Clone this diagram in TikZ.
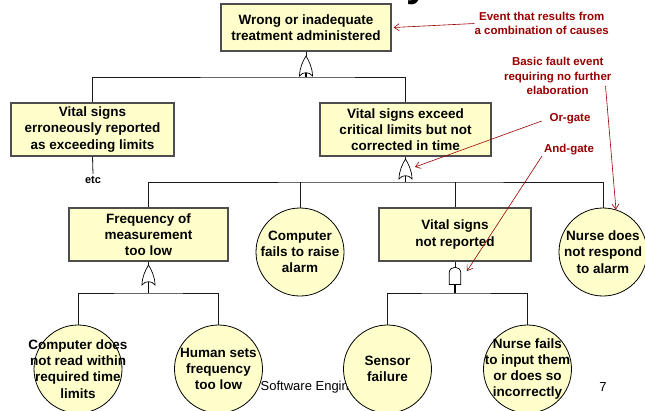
\documentclass[tikz,border=0pt]{standalone}
\usepackage{fontspec}
\setmainfont{Liberation Sans}
\usetikzlibrary{arrows.meta,calc}
\definecolor{boxfill}{HTML}{FFFFCC}
\definecolor{annred}{HTML}{990000}
\definecolor{boxline}{HTML}{4D4D4D}
\definecolor{connline}{HTML}{1A1A1A}
\tikzset{
  evbox/.style={draw=boxline, line width=1.3pt, fill=boxfill, minimum height=53pt, inner sep=0pt, align=center, font=\bfseries\fontsize{13.5}{16.3}\selectfont},
  basic/.style={circle, draw=black, line width=0.8pt, fill=boxfill, minimum size=88pt, inner sep=0pt},
  ctext/.style={align=center, font=\bfseries\fontsize{13.5}{16.3}\selectfont, inner sep=0pt},
  conn/.style={draw=connline, line width=0.8pt},
  gatestem/.style={draw=black, line width=1.6pt},
  annot/.style={text=annred, align=center, font=\bfseries\fontsize{11.5}{14.5}\selectfont, inner sep=0pt},
  annarrow/.style={draw=annred, line width=0.6pt, -{Straight Barb[length=5pt,width=7pt]}},
  gateshape/.style={draw=black, line width=0.7pt, fill=white},
  orgate/.pic={\path[gateshape] (-6.5,0) .. controls (-6.5,-8) and (-3,-15) .. (0,-20) .. controls (3,-15) and (6.5,-8) .. (6.5,0) .. controls (3,-4.5) and (-3,-4.5) .. cycle;},
  andgate/.pic={\path[gateshape] (-5.8,0) -- (-5.8,-11.5) .. controls (-5.8,-19.2) and (5.8,-19.2) .. (5.8,-11.5) -- (5.8,0) -- cycle;}
}
\begin{document}
\begin{tikzpicture}[x=1pt,y=-1pt]
\useasboundingbox (0,0) rectangle (645,410);
\fill[white] (0,0) rectangle (645,410);

% clipped title fragment
\begin{scope}
\clip (0,0) rectangle (645,410);
\node[anchor=base west, inner sep=0pt, font=\bfseries\fontsize{40}{44}\selectfont] (title) at (406,-3.5) {y};
\end{scope}

% footer (partly hidden by circles)
\node[anchor=west, inner sep=0pt, font=\fontsize{13}{15}\selectfont] (footer) at (260.5,387) {Software Engineering};
\node[inner sep=0pt, font=\fontsize{13}{15}\selectfont] (pg) at (603,387) {7};

% events
\node[evbox, minimum width=170pt, minimum height=47pt] (top) at (306,27.5) {Wrong or inadequate\\treatment administered};
\node[evbox, minimum width=163pt] (vl) at (92.5,129.5) {Vital signs\\erroneously reported\\as exceeding limits};
\node[evbox, minimum width=171pt] (vr) at (405.5,129.5) {Vital signs exceed\\critical limits but not\\corrected in time};
\node[evbox, minimum width=159pt] (freq) at (148.5,234.5) {Frequency of\\measurement\\too low};
\node[evbox, minimum width=152pt] (vsnr) at (455,234.5) {Vital signs\\not reported};

% basic events
\node[basic, label={[ctext]center:{Computer\\fails to raise\\alarm}}] (comp) at (300,252) {};
\node[basic, label={[ctext]center:{Nurse does\\not respond\\to alarm}}] (nurse) at (603,252) {};
\node[basic, label={[ctext]center:{Computer does\\not read within\\required time\\limits}}] (c1) at (78,369) {};
\node[basic, label={[ctext]center:{Human sets\\frequency\\too low}}] (c2) at (218.5,369) {};
\node[basic, label={[ctext]center:{Sensor\\failure}}] (c3) at (387.5,369) {};
\node[basic, label={[ctext]center:{Nurse fails\\to input them\\or does so\\incorrectly}}] (c4) at (527.5,369) {};

\node[font=\bfseries\fontsize{11}{13}\selectfont, inner sep=2pt] (etc) at (93,180) {etc};

% gate coordinates
\coordinate (g1top) at (306,56);   \coordinate (g1) at (306,76);    \coordinate (g1mid) at (306,72.6); \coordinate (bus1) at (306,77);
\coordinate (g2top) at (405.5,160); \coordinate (g2) at (405.5,179); \coordinate (g2mid) at (405.5,175.6); \coordinate (bus2) at (405.5,182);
\coordinate (g3top) at (148.5,266); \coordinate (g3) at (148.5,285); \coordinate (g3mid) at (148.5,281.6); \coordinate (bus3) at (148.5,293);
\coordinate (g4top) at (455,267);   \coordinate (g4) at (455,284.5); \coordinate (bus4) at (455,293);

% connectors
\draw[conn] (top.south) -- (g1top);
\draw[gatestem] (g1mid) -- (bus1);
\draw[conn] (vl.north) |- (bus1) -| (vr.north);
\draw[conn] (vl.south) -- (etc.north);

\draw[conn] (vr.south) -- (g2top);
\draw[gatestem] (g2mid) -- (bus2);
\draw[conn] (freq.north) |- (bus2) -| (nurse.north);
\draw[conn] (comp.north) -- (comp.north |- bus2);
\draw[conn] (vsnr.north) -- (vsnr.north |- bus2);

\draw[conn] (freq.south) -- (g3top);
\draw[gatestem] (g3mid) -- (bus3);
\draw[conn] (c1.north) |- (bus3) -| (c2.north);

\draw[conn] (vsnr.south) -- (g4top);
\draw[gatestem] (g4) -- (bus4);
\draw[conn] (c3.north) |- (bus4) -| (c4.north);

% gates
\pic at (g1) {orgate};
\pic at (g2) {orgate};
\pic at (g3) {orgate};
\pic at (g4) {andgate};

% annotations
\node[annot] (ann1) at (541.7,23.5) {Event that results from\\a combination of causes};
\node[annot] (ann2) at (557.7,76) {Basic fault event\\requiring no further\\elaboration};
\node[annot] (ann3) at (570,119) {Or-gate};
\node[annot] (ann4) at (569,150) {And-gate};

\coordinate (a2s) at (605.5,86);
\coordinate (a3s) at (541.7,121);
\coordinate (a3e) at (415,167);
\coordinate (a4s) at (542,156);
\coordinate (a4e) at (467,271);

\draw[annarrow] (ann1.west) -- ($(top.east)+(2,0)$);
\draw[annarrow] (a2s) -- (nurse.73);
\draw[annarrow] (a3s) -- (a3e);
\draw[annarrow] (a4s) -- (a4e);
\end{tikzpicture}
\end{document}
